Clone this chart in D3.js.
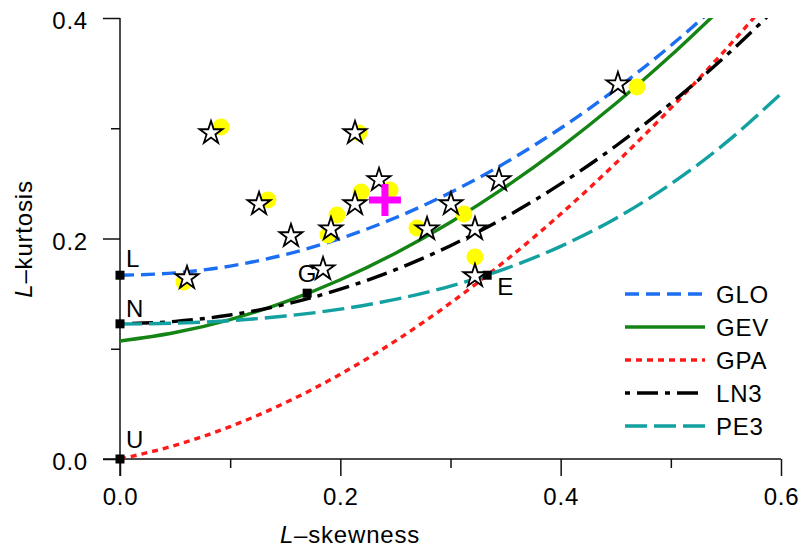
<!DOCTYPE html>
<html>
<head>
<meta charset="utf-8">
<script src="https://cdn.jsdelivr.net/npm/d3@7"></script>
<style>
body { margin: 0; background: #fff; }
svg { display: block; font-family: "Liberation Sans", Arial, sans-serif; }
</style>
</head>
<body>
<div id="chart"></div>
<script>
// theoretical curves at every 0.05 of L-skewness
var curveSkew = [0, 0.05, 0.1, 0.15, 0.2, 0.25, 0.3, 0.35, 0.4, 0.45, 0.5, 0.55, 0.6];
var gloKurt = [0.1667, 0.1688, 0.1750, 0.1854, 0.2000, 0.2188, 0.2417, 0.2688, 0.3000, 0.3354, 0.3750, 0.4188];
var gevKurt = [0.1070, 0.1147, 0.1265, 0.1425, 0.1626, 0.1867, 0.2148, 0.2468, 0.2827, 0.3224, 0.3659, 0.4130];
var gpaKurt = [0.0000, 0.0124, 0.0294, 0.0510, 0.0769, 0.1071, 0.1415, 0.1799, 0.2222, 0.2683, 0.3182, 0.3716, 0.4286];
var ln3Kurt = [0.1228, 0.1248, 0.1306, 0.1403, 0.1540, 0.1717, 0.1935, 0.2194, 0.2495, 0.2839, 0.3226, 0.3657, 0.4134];
var pe3Kurt = [0.1224, 0.1232, 0.1255, 0.1297, 0.1359, 0.1448, 0.1569, 0.1727, 0.1929, 0.2182, 0.2494, 0.2869, 0.3314];
var curveNames = ["GLO", "GEV", "GPA", "LN3", "PE3"];

// sites (stars) and second set of sample values (yellow dots)
var starSkew = [0.0826, 0.2133, 0.2351, 0.1262, 0.1552, 0.1915, 0.2133, 0.1843, 0.0608, 0.3004, 0.2787, 0.3222, 0.3440, 0.3222, 0.4520];
var starKurt = [0.2966, 0.2966, 0.2540, 0.2322, 0.2032, 0.2095, 0.2322, 0.1732, 0.1651, 0.2322, 0.2095, 0.2095, 0.2540, 0.1669, 0.3410];
var dotSkew = [0.0917, 0.2169, 0.1343, 0.1970, 0.1888, 0.2188, 0.2451, 0.0581, 0.4693, 0.3122, 0.2696, 0.3222];
var dotKurt = [0.3011, 0.2957, 0.2349, 0.2213, 0.2032, 0.2422, 0.2440, 0.1605, 0.3374, 0.2222, 0.2095, 0.1832];

// regional average
var avgSkew = 0.2405, avgKurt = 0.2349;

// special points
var pointNames = ["L", "N", "U", "G", "E"];
var pointSkew = [0, 0, 0, 0.1699, 0.3333];
var pointKurt = [0.1667, 0.1226, 0, 0.1504, 0.1667];

var xTicks = [0, 0.1, 0.2, 0.3, 0.4, 0.5, 0.6];
var yTicks = [0, 0.1, 0.2, 0.3, 0.4];

var svg = d3.select("#chart").append("svg").attr("width", 799).attr("height", 548);

var x = d3.scaleLinear().domain([0, 0.6]).range([120, 781]);
var y = d3.scaleLinear().domain([0, 0.4]).range([459, 18]);

var fmt = d3.format(".1f");
function isMajor(v) { return Math.round(v * 10) % 2 == 0; }

// axes
var gx = svg.append("g").attr("transform", "translate(0," + y(0) + ")")
  .call(d3.axisBottom(x).tickValues(xTicks).tickSize(17).tickPadding(12)
    .tickFormat(function(d) { return isMajor(d) ? fmt(d) : ""; }));
var gy = svg.append("g").attr("transform", "translate(" + x(0) + ",0)")
  .call(d3.axisLeft(y).tickValues(yTicks).tickSize(17).tickPadding(15)
    .tickFormat(function(d) { return isMajor(d) ? fmt(d) : ""; }));

[gx, gy].forEach(function(g) {
  g.select(".domain").remove();
  g.selectAll(".tick line").attr("stroke", "#111").attr("stroke-width", 1.5);
  g.selectAll(".tick text").attr("font-family", "Liberation Sans, Arial, sans-serif")
    .attr("font-size", 24).attr("fill", "#000").attr("letter-spacing", 0.8);
});
gx.selectAll(".tick line").attr("y2", function(d) { return isMajor(d) ? 17 : 9; });
gy.selectAll(".tick line").attr("x2", function(d) { return isMajor(d) ? -17 : -9; });
gy.selectAll(".tick text").attr("dy", "0.44em");

svg.append("line").attr("x1", x(0) - 17).attr("x2", x(0.6)).attr("y1", y(0)).attr("y2", y(0))
  .attr("stroke", "#111").attr("stroke-width", 1.5);
svg.append("line").attr("x1", x(0)).attr("x2", x(0)).attr("y1", y(0.4)).attr("y2", y(0) + 17)
  .attr("stroke", "#111").attr("stroke-width", 1.5);

// axis titles
var xt = svg.append("text").attr("x", 350).attr("y", 543).attr("text-anchor", "middle")
  .attr("font-size", 24).attr("letter-spacing", 0.8);
xt.append("tspan").attr("font-style", "italic").text("L");
xt.append("tspan").text("\u2013skewness");

var yt = svg.append("text").attr("transform", "translate(32,239) rotate(-90)").attr("text-anchor", "middle")
  .attr("font-size", 24).attr("letter-spacing", 0.8);
yt.append("tspan").attr("font-style", "italic").text("L");
yt.append("tspan").text("\u2013kurtosis");

// curves
svg.append("clipPath").attr("id", "plotClip").append("rect")
  .attr("x", x(0)).attr("y", y(0.4)).attr("width", x(0.6) - x(0)).attr("height", y(0) - y(0.4));

var styles = [
  { color: "#1c6ef2", dash: "14,7" },
  { color: "#148414", dash: null },
  { color: "#ff1a1a", dash: "6,5" },
  { color: "#000000", dash: "5,7,21,7" },
  { color: "#12a0a0", dash: "22,7" }
];
var curveKurt = [gloKurt, gevKurt, gpaKurt, ln3Kurt, pe3Kurt];

var line = d3.line()
  .x(function(d) { return x(d[0]); })
  .y(function(d) { return y(d[1]); })
  .curve(d3.curveMonotoneX);

var curves = svg.append("g").attr("clip-path", "url(#plotClip)");
curveKurt.forEach(function(k, i) {
  var pts = k.map(function(v, j) { return [curveSkew[j], v]; });
  curves.append("path").datum(pts)
    .attr("d", line)
    .attr("fill", "none")
    .attr("stroke", styles[i].color)
    .attr("stroke-width", 3.4)
    .attr("stroke-dasharray", styles[i].dash);
});

// special points
svg.selectAll("rect.pt").data(pointNames).enter().append("rect")
  .attr("class", "pt")
  .attr("x", function(d, i) { return x(pointSkew[i]) - 4.5; })
  .attr("y", function(d, i) { return y(pointKurt[i]) - 4.5; })
  .attr("width", 9).attr("height", 9).attr("fill", "#000");

var labelOff = { L: [6, -8, "start"], N: [6, -7, "start"], U: [6, -11, "start"], G: [0, -11, "middle"], E: [10, 20, "start"] };
svg.selectAll("text.pt").data(pointNames).enter().append("text")
  .attr("class", "pt")
  .attr("x", function(d, i) { return x(pointSkew[i]) + labelOff[d][0]; })
  .attr("y", function(d, i) { return y(pointKurt[i]) + labelOff[d][1]; })
  .attr("text-anchor", function(d) { return labelOff[d][2]; })
  .attr("font-size", 24)
  .text(function(d) { return d; });

// yellow dots
svg.selectAll("circle.dot").data(dotSkew).enter().append("circle")
  .attr("class", "dot")
  .attr("cx", function(d) { return x(d); })
  .attr("cy", function(d, i) { return y(dotKurt[i]); })
  .attr("r", 8.5)
  .attr("fill", "#ffff00");

// stars
var star = d3.symbol().type(d3.symbolStar).size(165);
svg.selectAll("path.star").data(starSkew).enter().append("path")
  .attr("class", "star")
  .attr("transform", function(d, i) { return "translate(" + x(d) + "," + (y(starKurt[i]) + 1) + ")"; })
  .attr("d", star)
  .attr("fill", "#fff")
  .attr("stroke", "#000")
  .attr("stroke-width", 1.8)
  .attr("stroke-linejoin", "miter");

// regional average cross
svg.append("path")
  .attr("transform", "translate(" + x(avgSkew) + "," + y(avgKurt) + ")")
  .attr("d", "M-16,0H16M0,-16V16")
  .attr("stroke", "#ff00ff")
  .attr("stroke-width", 7)
  .attr("fill", "none");

// legend
var legend = svg.append("g");
curveNames.forEach(function(name, i) {
  var ly = 294 + i * 33;
  legend.append("line").attr("x1", 625).attr("x2", 705).attr("y1", ly).attr("y2", ly)
    .attr("stroke", styles[i].color).attr("stroke-width", 3.6)
    .attr("stroke-dasharray", styles[i].dash);
  legend.append("text").attr("x", 716).attr("y", ly + 9)
    .attr("font-size", 24).attr("letter-spacing", 0.8).text(name);
});
</script>
</body>
</html>
